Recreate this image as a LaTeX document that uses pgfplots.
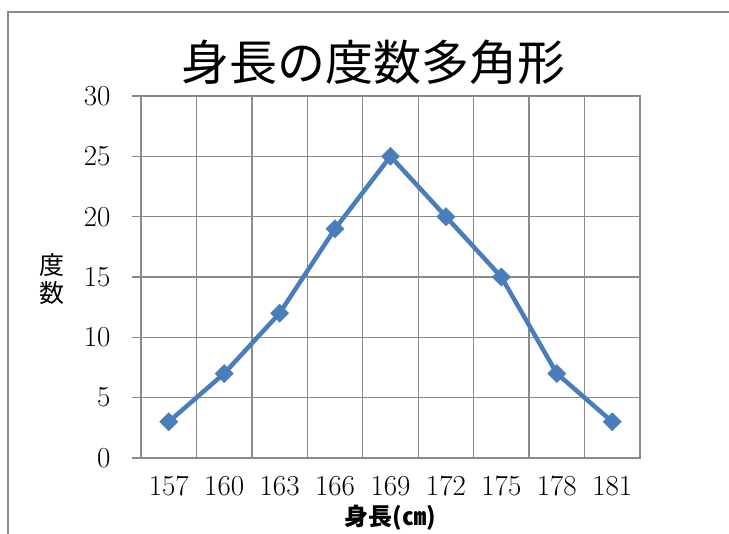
\documentclass[border=0pt]{standalone}
\usepackage{fontspec}
\usepackage{pgfplots}
\pgfplotsset{compat=1.18}
\newfontfamily\jp{Noto Sans CJK JP}
\definecolor{gridgray}{HTML}{8A8A8A}
\definecolor{lineblue}{HTML}{4A7EBB}
\definecolor{framegray}{HTML}{8C8C8C}
\begin{document}
\begin{tikzpicture}[x=1pt,y=1pt]
\useasboundingbox (-141,-76) rectangle (588,458);
% outer chart frame
\draw[framegray, line width=1.6pt] (-133,-80) -- (-133,446) -- (592,446);
\begin{axis}[
  at={(0,0)}, anchor=south west,
  scale only axis, width=499pt, height=362pt,
  xmin=-0.5, xmax=8.5, ymin=0, ymax=30,
  xtick={0,...,8},
  xticklabels={157,160,163,166,169,172,175,178,181},
  minor xtick={-0.5,0.5,...,8.5},
  ytick={0,5,...,30},
  xminorgrids=true, ymajorgrids=true,
  grid style={gridgray, line width=1.3pt},
  minor grid style={gridgray, line width=1.3pt},
  axis line style={gridgray, line width=1.3pt},
  tick style={gridgray, line width=1.3pt},
  tick align=outside,
  xtick style={draw=none},
  minor x tick style={gridgray, line width=1.3pt},
  minor tick length=9pt, major tick length=9pt,
  xtick pos=bottom, ytick pos=left,
  /pgf/number format/assume math mode=true,
  tick label style={font=\fontsize{29}{29}\selectfont},
  xticklabel style={yshift=-8pt, inner sep=1pt},
  yticklabel style={xshift=-18pt},
  clip=false,
]
\addplot[lineblue, line width=4.5pt, mark=square*, mark size=6.4pt,
  mark options={rotate=45, fill=lineblue, draw=lineblue, line width=0.5pt}]
  coordinates {(0,3) (1,7) (2,12) (3,19) (4,25) (5,20) (6,15) (7,7) (8,3)};
\end{axis}
\node[font=\jp\fontsize{48}{48}\selectfont] at (233,396) {身長の度数多角形};
\node[font=\jp\bfseries\fontsize{24}{24}\selectfont, inner sep=0pt] at (249,-60) {身長(㎝)};
\node[font=\jp\fontsize{25}{28}\selectfont, align=center] at (-89,179) {度\\数};
\end{tikzpicture}
\end{document}
